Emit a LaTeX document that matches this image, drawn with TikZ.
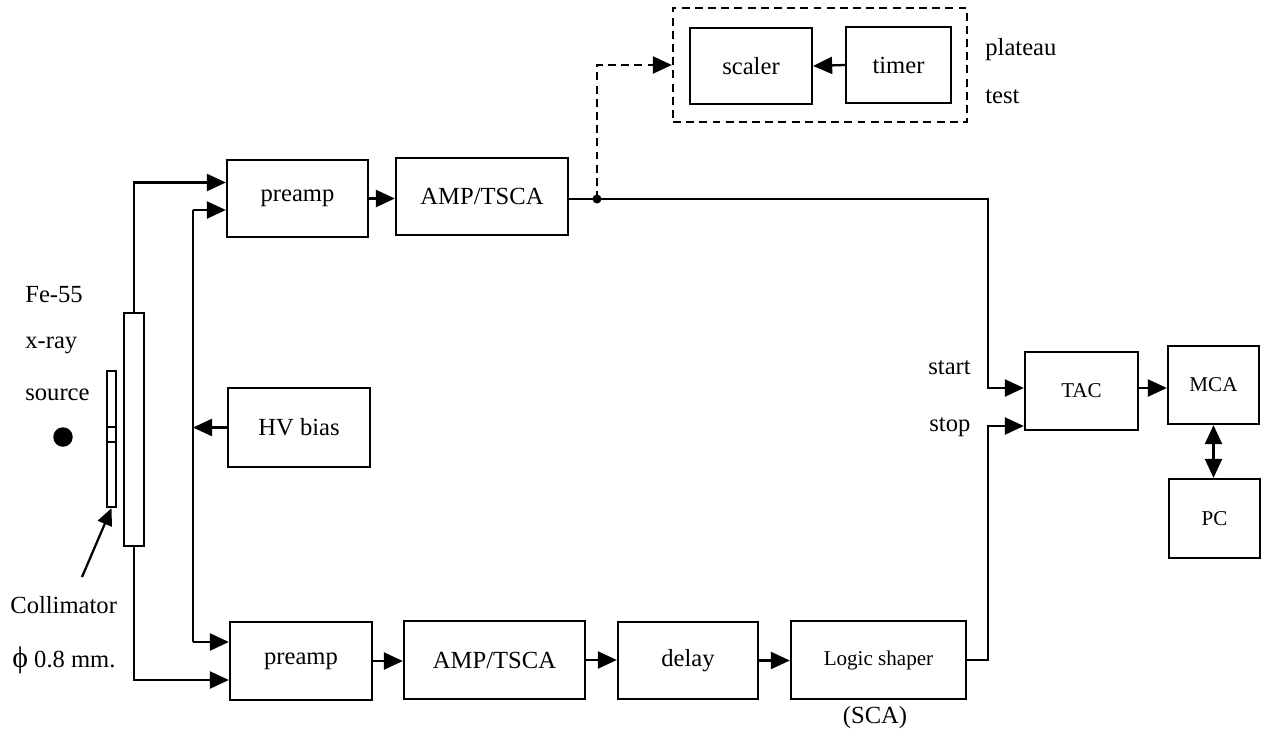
\documentclass[tikz,border=0pt]{standalone}
\usepackage{fontspec}
\setmainfont{Liberation Serif}
\usetikzlibrary{arrows.meta,calc}

\begin{document}
\begin{tikzpicture}[x=0.2mm, y=-0.2mm,
		box/.style={draw, line width=1.3pt, inner sep=0pt, align=center,
			font=\fontsize{14}{16}\selectfont},
		smallbox/.style={box, font=\fontsize{12}{14}\selectfont},
		lbl/.style={anchor=west, inner sep=0pt, font=\fontsize{14}{16}\selectfont},
		wire/.style={line width=1.3pt},
		dashline/.style={dash pattern=on 4.5pt off 3pt},
		arrow/.style={wire, -{Triangle[length=3.8mm, width=3.4mm]}}
	]
		\useasboundingbox (0,0) rectangle (1270,734);

		% upper chain
		\node[box, minimum width=28.2mm, minimum height=15.4mm] (pre1) at (297.5,198.5) {preamp};
		\node[box, minimum width=34.4mm, minimum height=15.4mm] (amp1) at (482,196.5) {AMP/TSCA};
		\node[box, minimum width=24.4mm, minimum height=15.2mm] (scaler) at (751,66) {scaler};
		\node[box, minimum width=21mm, minimum height=15.2mm] (timer) at (898.5,65) {timer};
		\node[draw, dashline, line width=1.3pt, minimum width=58.8mm, minimum height=22.8mm] (plat) at (820,65) {};
		\node[lbl] (plateau) at (985,50) {plateau};
		\node[lbl] (test) at (985,97) {test};

		% bias and lower chain
		\node[box, minimum width=28.4mm, minimum height=15.8mm] (hv) at (299,427.5) {HV bias};
		\node[box, minimum width=28.4mm, minimum height=15.6mm] (pre2) at (301,661) {preamp};
		\node[box, minimum width=36.2mm, minimum height=15.6mm] (amp2) at (494.5,660) {AMP/TSCA};
		\node[box, minimum width=28mm, minimum height=15.4mm] (delay) at (688,660.5) {delay};
		\node[smallbox, minimum width=35mm, minimum height=15.6mm] (logic) at (878.5,660) {Logic shaper};
		\node[lbl, anchor=center] (sca) at (875,718) {(SCA)};

		% timing
		\node[smallbox, minimum width=22.6mm, minimum height=15.6mm] (tac) at (1081.5,391) {TAC};
		\node[smallbox, minimum width=18.2mm, minimum height=15.6mm] (mca) at (1213.5,385) {MCA};
		\node[smallbox, minimum width=18.2mm, minimum height=15.8mm] (pc) at (1214.5,518.5) {PC};
		\node[lbl] (start) at (928,368) {start};
		\node[lbl] (stop) at (929,427) {stop};

		% source, collimator, detector
		\node[draw, line width=1.3pt, minimum width=4mm, minimum height=46.6mm, inner sep=0pt] (det) at (134,429.5) {};
		\node[draw, line width=1.3pt, minimum width=1.8mm, minimum height=27.2mm, inner sep=0pt] (coll) at (111.5,439) {};
		\draw[wire] (coll.west |- 0,427) -- (coll.east |- 0,427)
			(coll.west |- 0,442) -- (coll.east |- 0,442);
		\node[circle, fill, minimum size=3.9mm, inner sep=0pt] (src) at (63,437) {};
		\node[lbl] (fe) at (25,295) {Fe-55};
		\node[lbl] (xray) at (25,345) {x-ray};
		\node[lbl] (source) at (25,395) {source};
		\node[lbl] (collim) at (10,605) {Collimator};
		\node[lbl] (diam) at (12,660) {{\fontsize{17}{17}\selectfont ϕ} 0.8 mm.};
		\coordinate (ctail) at (82,577);
		\draw[wire, -{Triangle[length=3.4mm, width=3mm]}] (ctail) -- (coll.south);

		% detector signals and bias
		\draw[arrow] (det.north) |- ($(pre1.west)+(0,-16)$);
		\draw[arrow] (det.south) |- ($(pre2.west)+(0,19)$);
		\coordinate (bt) at (193,210);
		\coordinate (bb) at (193,642);
		\draw[wire] (bt) -- (bb);
		\draw[arrow] (bt) -- (bt -| pre1.west);
		\draw[arrow] (bb) -- (bb -| pre2.west);
		\draw[arrow] (hv.west) -- (hv.west -| bt);

		% upper signal path
		\draw[arrow] (pre1.east) -- (pre1.east -| amp1.west);
		\coordinate (jn) at (597,199);
		\coordinate (startc) at (988,388);
		\draw[wire] (amp1.east |- jn) -- (jn);
		\draw[arrow] (jn) -| (startc) -- (startc -| tac.west);
		\fill (jn) circle (0.9mm);
		\draw[arrow, dashline] (jn) |- (plat.west);
		\draw[arrow] (timer.west) -- (scaler.east);

		% lower signal path
		\draw[arrow] (pre2.east) -- (pre2.east -| amp2.west);
		\draw[arrow] (amp2.east) -- (amp2.east -| delay.west);
		\draw[arrow] (delay.east) -- (delay.east -| logic.west);
		\coordinate (stopc) at (988,426);
		\draw[arrow] (logic.east) -| (stopc) -- (stopc -| tac.west);

		% TAC to MCA and PC
		\draw[arrow] (tac.east |- 0,388) -- (mca.west |- 0,388);
		\draw[wire, {Triangle[length=3.8mm, width=3.4mm]}-{Triangle[length=3.8mm, width=3.4mm]}] (mca.south) -- (mca.south |- pc.north);
	\end{tikzpicture}
\end{document}
